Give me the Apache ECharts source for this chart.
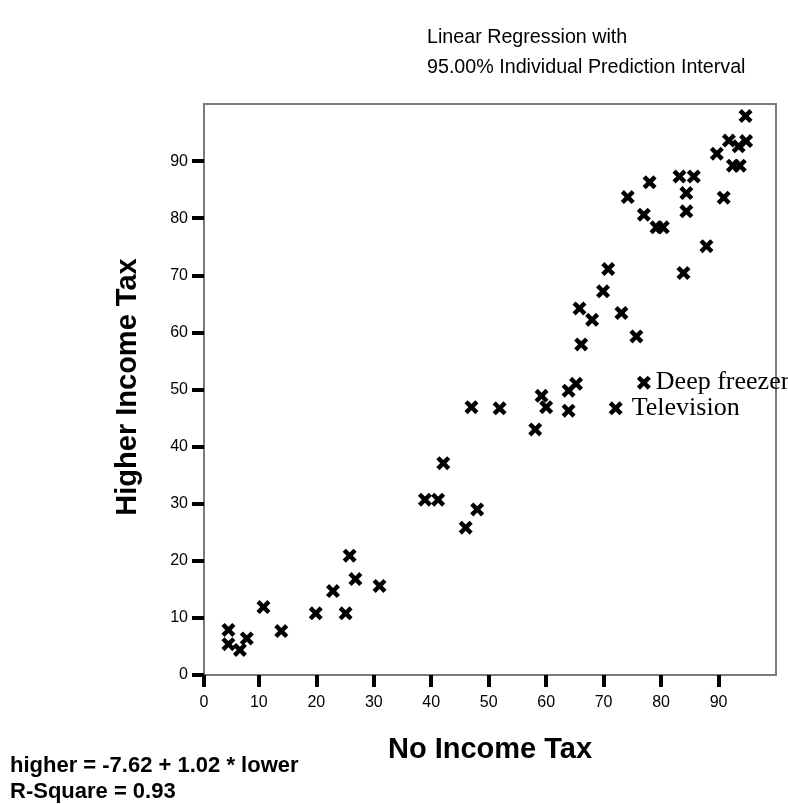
<!DOCTYPE html>
<html>
<head>
<meta charset="utf-8">
<script src="https://cdn.jsdelivr.net/npm/echarts@6/dist/echarts.min.js"></script>
<style>
  html, body { margin: 0; padding: 0; background: #fff; }
  #chart { width: 788px; height: 804px; }
</style>
</head>
<body>
<div id="chart"></div>
<script>
// Ownership (%) of household goods: households paying no income tax vs. higher-rate tax
const noIncomeTax = [
  4.7, 4.7, 7.9, 6.7, 10.8, 13.9, 19.9, 22.9, 25.1, 25.8,
  26.8, 31.0, 38.9, 41.2, 42.1, 46.0, 47.0, 48.0, 51.9, 58.1,
  59.2, 60.0, 63.9, 65.2, 63.9, 72.1, 77.0, 65.8, 68.0, 66.1,
  69.9, 70.8, 73.1, 75.7, 83.9, 87.9, 79.2, 80.3, 77.0, 84.4,
  74.2, 84.4, 78.0, 83.2, 85.7, 90.9, 89.7, 91.8, 94.8, 94.7,
  93.5, 92.5, 93.7
];
const higherIncomeTax = [
  7.9, 5.4, 6.4, 4.4, 11.9, 7.7, 10.8, 14.7, 10.8, 20.9,
  16.8, 15.6, 30.7, 30.7, 37.1, 25.8, 46.9, 29.0, 46.7, 43.0,
  48.9, 46.9, 49.8, 51.0, 46.3, 46.7, 51.2, 64.2, 62.2, 57.9,
  67.2, 71.1, 63.4, 59.3, 70.4, 75.1, 78.4, 78.4, 80.6, 81.2,
  83.7, 84.4, 86.3, 87.3, 87.3, 83.6, 91.3, 93.6, 93.5, 97.9,
  92.6, 89.2, 89.2
];
// Only a couple of goods carry a name tag on the plot
const itemNames = noIncomeTax.map(() => '');
itemNames[25] = 'Television';
itemNames[26] = 'Deep freezer';

const xTickLabels = ['0', '10', '20', '30', '40', '50', '60', '70', '80', '90'];
const yTickLabels = ['0', '10', '20', '30', '40', '50', '60', '70', '80', '90'];

const X_MIN = 0.45, X_MAX = 100, Y_MIN = 0, Y_MAX = 100;

const sansFont = '"Liberation Sans", Arial, Helvetica, sans-serif';
const serifFont = '"Liberation Serif", "Times New Roman", serif';
const crossPath = 'path://M0,4.5 L4.5,0 L10,5.5 L15.5,0 L20,4.5 L14.5,10 L20,15.5 L15.5,20 L10,14.5 L4.5,20 L0,15.5 L5.5,10 Z';

// The lowest x tick sits on the axis start
const xTickValues = xTickLabels.map((t, i) => i === 0 ? X_MIN : Number(t));
const yTickValues = yTickLabels.map(Number);

const points = noIncomeTax.map((x, i) => {
  const item = { value: [x, higherIncomeTax[i]], name: itemNames[i] };
  if (itemNames[i]) {
    item.label = {
      show: true,
      position: 'right',
      distance: i === 25 ? 9 : 5,
      formatter: '{b}',
      fontFamily: serifFont,
      fontSize: 26,
      color: '#000'
    };
  }
  return item;
});

const chart = echarts.init(document.getElementById('chart'), null, { renderer: 'canvas' });

const axisTickStyle = { show: true, inside: false, length: 12, lineStyle: { color: '#000', width: 4 } };

chart.setOption({
  animation: false,
  backgroundColor: '#fff',
  grid: {
    left: 204, right: 12, top: 104, bottom: 129,
    show: true, borderColor: '#7a7a7a', borderWidth: 2, backgroundColor: 'transparent'
  },
  xAxis: {
    type: 'value',
    min: X_MIN, max: X_MAX,
    axisLine: { show: false },
    splitLine: { show: false },
    axisTick: Object.assign({ customValues: xTickValues }, axisTickStyle),
    axisLabel: {
      customValues: xTickValues,
      margin: 20,
      fontFamily: sansFont, fontSize: 16, color: '#000',
      formatter: v => xTickLabels[xTickValues.indexOf(v)]
    }
  },
  yAxis: {
    type: 'value',
    min: Y_MIN, max: Y_MAX,
    axisLine: { show: false },
    splitLine: { show: false },
    axisTick: Object.assign({ customValues: yTickValues }, axisTickStyle),
    axisLabel: {
      customValues: yTickValues,
      margin: 16,
      fontFamily: sansFont, fontSize: 16, color: '#000',
      formatter: v => yTickLabels[yTickValues.indexOf(v)]
    }
  },
  series: [{
    type: 'scatter',
    data: points,
    symbol: crossPath,
    symbolSize: 14,
    itemStyle: { color: '#000', opacity: 1 },
    labelLayout: { hideOverlap: false }
  }],
  graphic: [
    { type: 'text', left: 427, top: 28,
      style: { text: 'Linear Regression with', font: '19.7px ' + sansFont, fill: '#000' } },
    { type: 'text', left: 427, top: 58,
      style: { text: '95.00% Individual Prediction Interval', font: '19.7px ' + sansFont, fill: '#000' } },
    { type: 'text', x: 128, y: 387, rotation: Math.PI / 2,
      style: { text: 'Higher Income Tax', font: 'bold 29px ' + sansFont, fill: '#000', align: 'center', verticalAlign: 'middle' } },
    { type: 'text', x: 490, y: 750,
      style: { text: 'No Income Tax', font: 'bold 29px ' + sansFont, fill: '#000', align: 'center', verticalAlign: 'middle' } },
    { type: 'text', x: 10, y: 766,
      style: { text: 'higher = -7.62 + 1.02 * lower', font: 'bold 22px ' + sansFont, fill: '#000', verticalAlign: 'middle' } },
    { type: 'text', x: 10, y: 792,
      style: { text: 'R-Square = 0.93', font: 'bold 22px ' + sansFont, fill: '#000', verticalAlign: 'middle' } }
  ]
});
</script>
</body>
</html>
